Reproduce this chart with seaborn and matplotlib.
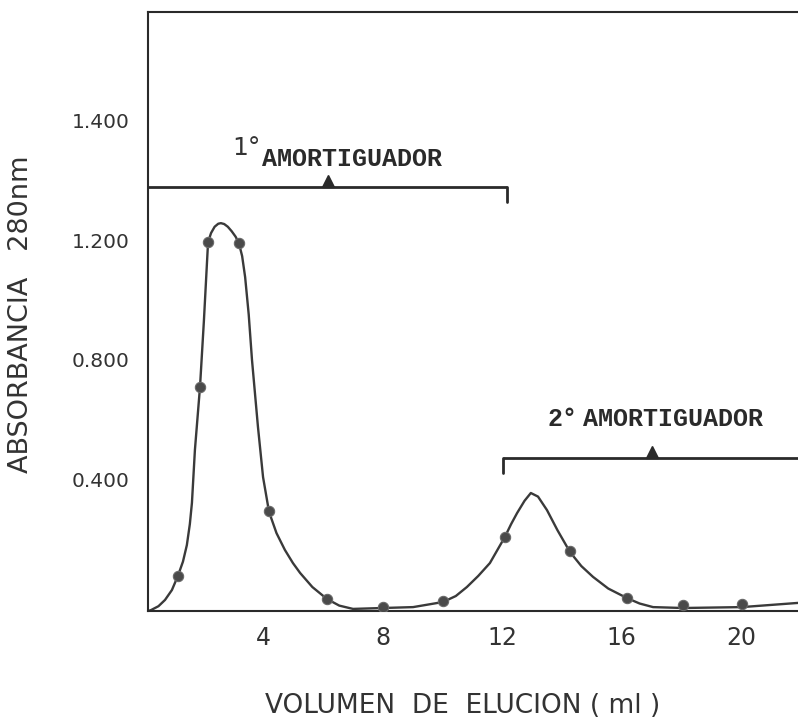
import matplotlib
matplotlib.use("Agg")
import matplotlib.pyplot as plt
import seaborn as sns
import pandas as pd

# ---- data ----
# measured fractions (dots)
vol_points = [1.15, 1.89, 2.16, 3.19, 4.20, 6.14, 8.01, 10.02, 12.09, 14.27, 16.18, 18.05, 20.02]
abs_points = [0.117, 0.748, 1.232, 1.229, 0.334, 0.040, 0.013, 0.033, 0.247, 0.200, 0.043, 0.020, 0.023]

# hand-drawn elution curve
vol_curve = [0.15, 0.25, 0.50, 0.72, 0.95, 1.15, 1.32, 1.45, 1.55, 1.62, 1.72, 1.89, 2.02, 2.16,
             2.26, 2.38, 2.50, 2.59, 2.70, 2.82, 2.95, 3.08, 3.19, 3.30, 3.40, 3.52, 3.63, 3.83,
             4.00, 4.20, 4.45, 4.73, 5.00, 5.24, 5.65, 6.14, 6.55, 7.01, 8.01,
             9.02, 10.02, 10.45, 10.82, 11.20, 11.59, 12.09, 12.30, 12.50, 12.75, 12.96, 13.20,
             13.50, 13.85, 14.27, 14.65, 15.04, 15.55, 16.18, 16.60, 17.05, 18.05, 20.02, 21.90]
abs_curve = [0.000, 0.003, 0.016, 0.037, 0.070, 0.117, 0.165, 0.220, 0.290, 0.361, 0.538, 0.748, 0.968, 1.232,
             1.262, 1.283, 1.293, 1.295, 1.292, 1.283, 1.268, 1.250, 1.229, 1.185, 1.115, 0.990, 0.838, 0.614,
             0.447, 0.331, 0.260, 0.204, 0.160, 0.127, 0.080, 0.040, 0.018, 0.007, 0.010,
             0.013, 0.030, 0.050, 0.080, 0.117, 0.160, 0.247, 0.290, 0.327, 0.368, 0.394, 0.382,
             0.337, 0.270, 0.197, 0.150, 0.114, 0.075, 0.043, 0.025, 0.013, 0.010, 0.013, 0.027]

y_ticks = [0.4, 0.8, 1.2, 1.4, 1.6]
y_tick_labels = ["0.400", "0.800", "1.200", "", "1.400"]
x_ticks = [2, 4, 6, 8, 10, 12, 14, 16, 18, 20]
x_tick_labels = ["", "4", "", "8", "", "12", "", "16", "", "20"]

buffer_labels = ["1°", "2°"]
buffer_word = "AMORTIGUADOR"

df_curve = pd.DataFrame({"vol": vol_curve, "abs": abs_curve})
df_pts = pd.DataFrame({"vol": vol_points, "abs": abs_points})

sns.set_theme(style="white")
plt.rcParams["font.family"] = ["DejaVu Sans"]

ink = "#2a2a2a"
fig = plt.figure(figsize=(7.98, 7.23), dpi=100)
ax = fig.add_axes([148 / 798, (723 - 611) / 723, 650 / 798, 599 / 723])

sns.lineplot(data=df_curve, x="vol", y="abs", sort=False, estimator=None,
             color="#3a3a3a", linewidth=1.7, ax=ax)
sns.scatterplot(data=df_pts, x="vol", y="abs", color="#4a4a4a", edgecolor="#6a6a6a",
                s=55, linewidth=0.8, zorder=5, ax=ax)

ax.set_xlim(0.15, 21.9)
ax.set_ylim(0, 2.0)

ax.set_xticks(x_ticks)
ax.set_xticklabels(x_tick_labels, fontsize=17, color="#333333")
ax.set_yticks(y_ticks)
ax.set_yticklabels(y_tick_labels, fontsize=14.5, color="#333333")
for lab in ax.get_yticklabels():
    lab.set_verticalalignment("bottom")

ax.tick_params(axis="both", direction="inout", length=11, width=1.4, color=ink)
ax.tick_params(axis="x", pad=5)
ax.tick_params(axis="y", pad=8)

for side in ["left", "bottom", "top"]:
    ax.spines[side].set_visible(True)
    ax.spines[side].set_color(ink)
    ax.spines[side].set_linewidth(1.5)
ax.spines["right"].set_visible(False)

ax.set_xlabel("VOLUMEN  DE  ELUCION ( ml )", fontsize=19, color="#333333", labelpad=0)
ax.xaxis.set_label_coords((463 - 148) / 650, -(693 - 611) / 599)
ax.set_ylabel("ABSORBANCIA   280nm", fontsize=19.5, color="#333333")
ax.yaxis.set_label_coords(-(148 - 34) / 650, (611 - 314) / 599)

# buffer brackets
lw_b = 2.0
# first buffer
ax.plot([0.15, 12.16], [1.416, 1.416], color=ink, lw=lw_b, clip_on=False, solid_capstyle="butt")
ax.plot([12.16, 12.16], [1.416, 1.366], color=ink, lw=lw_b, clip_on=False)
ax.plot([6.17], [1.436], marker="^", markersize=9, color=ink, clip_on=False)
ax.text(2.96, 1.546, buffer_labels[0], fontsize=18, color="#333333", va="center", ha="left")
ax.text(3.96, 1.509, buffer_word, fontsize=18, fontweight="bold", family="Liberation Mono",
        color="#2a2a2a", va="center", ha="left")
# second buffer
ax.plot([12.03, 21.9], [0.511, 0.511], color=ink, lw=lw_b, clip_on=False, solid_capstyle="butt")
ax.plot([12.03, 12.03], [0.511, 0.461], color=ink, lw=lw_b, clip_on=False)
ax.plot([17.01], [0.531], marker="^", markersize=9, color=ink, clip_on=False)
ax.text(13.53, 0.641, buffer_labels[1], fontsize=18, fontweight="bold", family="Liberation Mono",
        color="#2a2a2a", va="center", ha="left")
ax.text(14.70, 0.641, buffer_word, fontsize=18, fontweight="bold", family="Liberation Mono",
        color="#2a2a2a", va="center", ha="left")

fig.savefig("out.png", dpi=100, facecolor="white")
